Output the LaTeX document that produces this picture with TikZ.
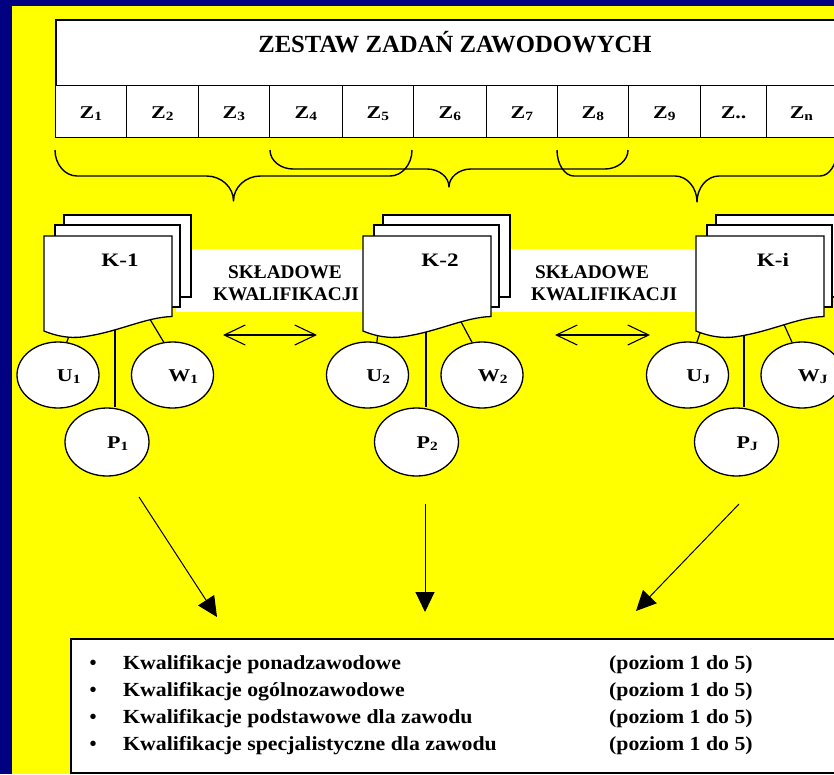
\documentclass[tikz,border=0pt]{standalone}
\usepackage{fontspec}
\setmainfont{Liberation Serif}
\newfontfamily\wideA{Liberation Serif}[FakeStretch=1.22]
\newfontfamily\wideB{Liberation Serif}[FakeStretch=1.09]
\usetikzlibrary{arrows.meta,shapes.geometric}
\definecolor{navyblue}{RGB}{0,0,128}
\definecolor{brightyellow}{RGB}{255,255,0}
% curly brace: x1, x2, ytop, yhoriz, ytip, corner width, tip width
\newcommand{\kbrace}[7]{%
  \draw[brc] (#1,#3) .. controls (#1,{#3+0.55*(#4-#3)}) and ({#1+0.45*#6},#4) .. ({#1+#6},#4)
    -- ({(#1+#2)/2-#7},#4) .. controls ({(#1+#2)/2-0.45*#7},#4) and ({(#1+#2)/2},{#5-0.55*(#5-#4)}) .. ({(#1+#2)/2},#5)
    .. controls ({(#1+#2)/2},{#5-0.55*(#5-#4)}) and ({(#1+#2)/2+0.45*#7},#4) .. ({(#1+#2)/2+#7},#4)
    -- ({#2-#6},#4) .. controls ({#2-0.45*#6},#4) and (#2,{#3+0.55*(#4-#3)}) .. (#2,#3);}
% stack of three pages, front page with wavy bottom; #1 = left x of front page
\newcommand{\kpages}[1]{%
  \draw[page] ({#1+20},215) rectangle ({#1+147},297);
  \draw[page] ({#1+11},225) rectangle ({#1+136},307);
  \draw[page] (#1,236) -- ({#1+128},236) -- ({#1+128},316.5)
    .. controls ({#1+100},317.5) and ({#1+75},332) .. ({#1+38},337)
    .. controls ({#1+25},338.5) and ({#1+12},336) .. (#1,331) -- cycle;}
\begin{document}
\begin{tikzpicture}[x=1pt,y=-1pt,
  every node/.style={inner sep=0pt},
  brc/.style={line width=1.4pt, line join=round},
  page/.style={draw, fill=white, line width=1.3pt},
  cellbox/.style={draw, fill=white, line width=1.3pt, anchor=north west,
    minimum height=52pt, text height=13pt, text depth=0pt,
    font=\wideA\bfseries\fontsize{18}{20}\selectfont},
  ell/.style={ellipse, draw, fill=white, line width=1.3pt,
    minimum width=82pt, minimum height=66pt, text height=12pt, text depth=0pt,
    font=\wideA\bfseries\fontsize{18}{20}\selectfont},
  pell/.style={ell, minimum width=84pt, minimum height=68pt},
  klbl/.style={anchor=base, font=\wideA\bfseries\fontsize{19}{22}\selectfont},
  sklbl/.style={font=\bfseries\fontsize{19.3}{22}\selectfont},
  conn/.style={line width=1.2pt},
  dbl/.style={line width=2.4pt,
    arrows={Straight Barb[length=21pt,width=20pt,line width=1.1pt]-Straight Barb[length=21pt,width=20pt,line width=1.1pt]}},
  bigarrow/.style={line width=1pt, -{Triangle[length=20pt,width=19pt]}},
  lstxt/.style={anchor=base west, font=\wideB\bfseries\fontsize{20}{22}\selectfont},
  bul/.style={anchor=base, font=\bfseries\fontsize{20}{22}\selectfont}]
\useasboundingbox (0,0) rectangle (834,774);
\clip (0,0) rectangle (834,774);
% background
\fill[navyblue] (0,0) rectangle (834,774);
\fill[brightyellow] (12,6) rectangle (834,774);

% top box with task cells
\node[draw, fill=white, line width=1.5pt, anchor=north west, minimum width=798pt, minimum height=66pt] (zestaw) at (55,19) {};
\node[anchor=base, font=\bfseries\fontsize{24.7}{26}\selectfont] (ttl) at (455,52.7) {ZESTAW ZADAŃ ZAWODOWYCH};
\foreach \xa/\xb/\nm/\tx in {55/126/z1/{Z\textsubscript{1}}, 126/198/z2/{Z\textsubscript{2}},
    198/269/z3/{Z\textsubscript{3}}, 269/342/z4/{Z\textsubscript{4}}, 342/413/z5/{Z\textsubscript{5}},
    413/486/z6/{Z\textsubscript{6}}, 486/557/z7/{Z\textsubscript{7}}, 557/628/z8/{Z\textsubscript{8}},
    628/700/z9/{Z\textsubscript{9}}, 700/766/zdots/{Z..}, 766/836/zn/{Z\textsubscript{n}}}
  \node[cellbox, minimum width={(\xb-\xa)*1pt}] (\nm) at (\xa,85) {\tx};

% braces
\kbrace{55}{412}{150}{176}{201}{22}{27}
\kbrace{270}{628}{150}{169}{187}{23}{22}
\kbrace{557}{837}{150}{176}{202}{17}{22}

% white band behind the page stacks
\fill[white] (176,249) rectangle (700,312);

% ellipses
\node[ell] (u1) at (58,375) {\hspace*{22pt}U\textsubscript{1}};
\node[ell] (w1) at (172.5,375) {\hspace*{22pt}W\textsubscript{1}};
\node[pell] (p1) at (107,442) {\hspace*{22pt}P\textsubscript{1}};
\node[ell] (u2) at (367.5,375) {\hspace*{22pt}U\textsubscript{2}};
\node[ell] (w2) at (482,375) {\hspace*{22pt}W\textsubscript{2}};
\node[pell] (p2) at (416.5,442) {\hspace*{22pt}P\textsubscript{2}};
\node[ell] (uj) at (687.5,375) {\hspace*{22pt}U\textsubscript{J}};
\node[ell] (wj) at (802,375) {\hspace*{22pt}W\textsubscript{J}};
\node[pell] (pj) at (736.5,442) {\hspace*{22pt}P\textsubscript{J}};

% connectors (start inside the front pages, which are drawn over them)
\coordinate (k1u) at (70,333);  \coordinate (k1w) at (148,316); \coordinate (k1p) at (115,329);
\coordinate (k2u) at (378,332); \coordinate (k2w) at (459,318); \coordinate (k2p) at (426,328);
\coordinate (kiu) at (701,330); \coordinate (kiw) at (782,320); \coordinate (kip) at (744,331);
\draw[conn] (k1u) -- (u1.75);
\draw[conn] (k1w) -- (w1.105);
\draw[conn] (k1p) -- (k1p |- p1.north);
\draw[conn] (k2u) -- (u2.74);
\draw[conn] (k2w) -- (w2.107);
\draw[conn] (k2p) -- (k2p |- p2.north);
\draw[conn] (kiu) -- (uj.74);
\draw[conn] (kiw) -- (wj.107);
\draw[conn] (kip) -- (kip |- pj.north);

% page stacks
\kpages{44}
\kpages{363}
\kpages{696}
\node[klbl] (k1) at (120,266) {K-1};
\node[klbl] (k2) at (440,266) {K-2};
\node[klbl] (ki) at (773,266) {K-i};

% band texts
\node[sklbl, anchor=base] (s1a) at (285,278) {SKŁADOWE};
\node[sklbl, anchor=base] (s1b) at (286,300.7) {KWALIFIKACJI};
\node[sklbl, anchor=base west] (s2a) at (535,278) {SKŁADOWE};
\node[sklbl, anchor=base west] (s2b) at (531,300.7) {KWALIFIKACJI};

% double arrows
\coordinate (d1l) at (223,335); \coordinate (d1r) at (317,335);
\coordinate (d2l) at (555,335); \coordinate (d2r) at (650,335);
\draw[dbl] (d1l) -- (d1r);
\draw[dbl] (d2l) -- (d2r);

% arrows to the list
\coordinate (a1s) at (139,497); \coordinate (a1e) at (217,617);
\coordinate (a2s) at (425,504); \coordinate (a2e) at (425,612);
\coordinate (a3s) at (739,504); \coordinate (a3e) at (636,611);
\draw[bigarrow] (a1s) -- (a1e);
\draw[bigarrow] (a2s) -- (a2e);
\draw[bigarrow] (a3s) -- (a3e);

% list box
\node[draw, fill=white, line width=1.5pt, anchor=north west, minimum width=790pt, minimum height=134pt] (lst) at (70,638) {};
\foreach \yy/\nm/\tx in {669.5/l1/{Kwalifikacje ponadzawodowe},
    696.5/l2/{Kwalifikacje ogólnozawodowe},
    723.5/l3/{Kwalifikacje podstawowe dla zawodu},
    750.5/l4/{Kwalifikacje specjalistyczne dla zawodu}}{
  \node[bul] (\nm b) at (93,\yy) {\textbullet};
  \node[lstxt] (\nm) at (123,\yy) {\tx};
  \node[lstxt] (\nm p) at (609,\yy) {(poziom 1 do 5)};
}
\end{tikzpicture}
\end{document}
